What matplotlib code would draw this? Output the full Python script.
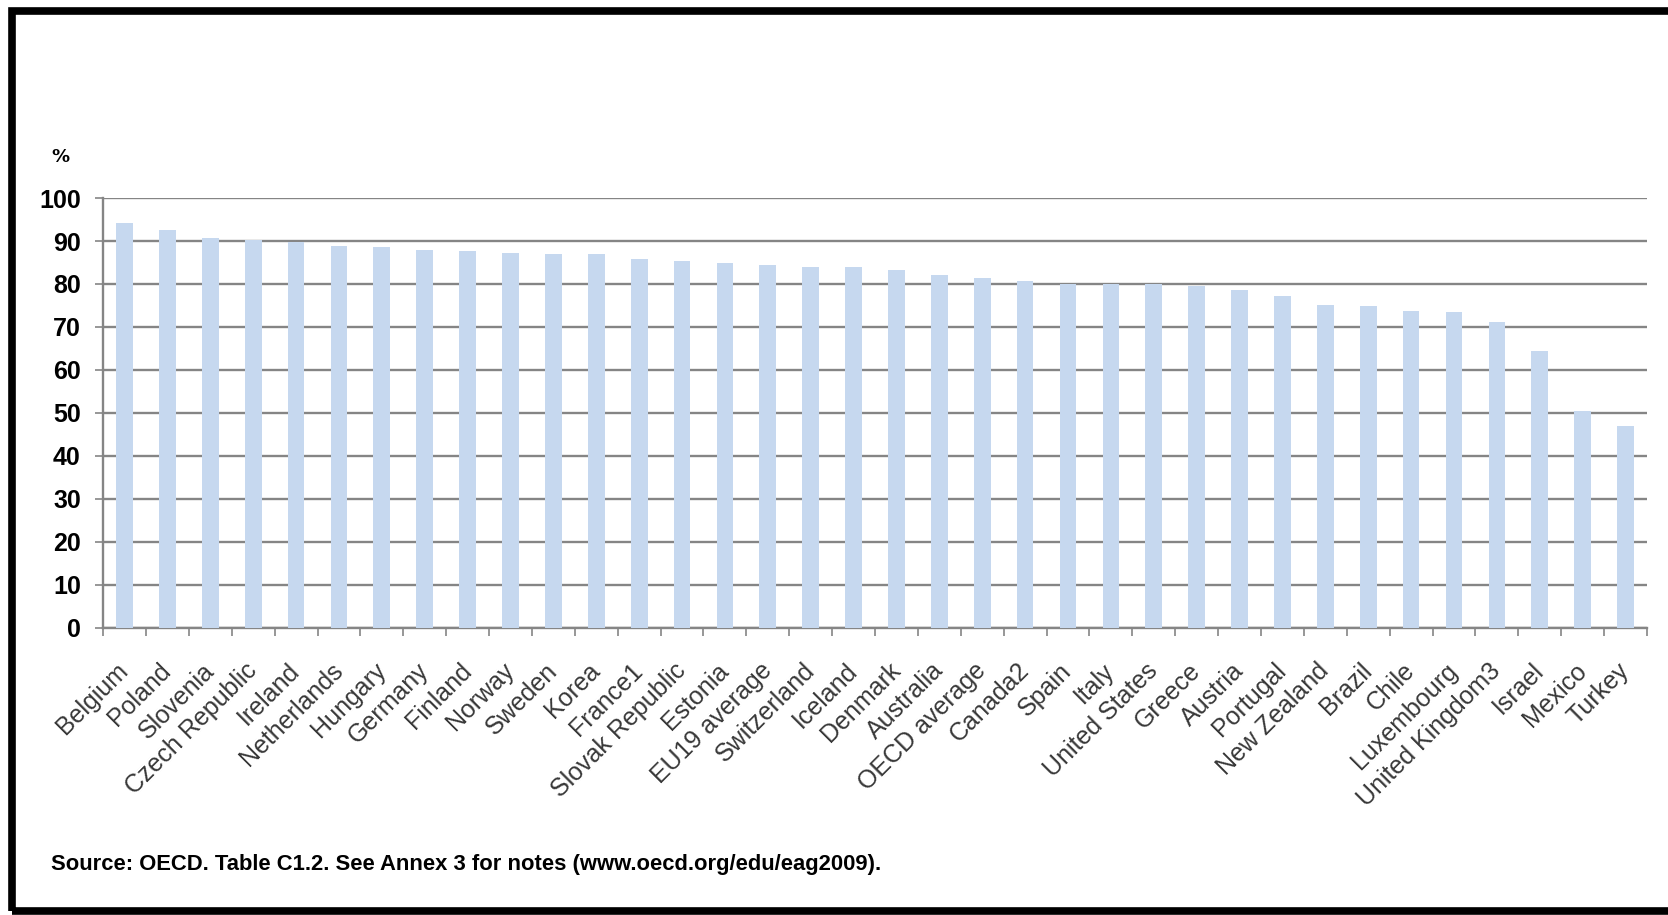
from __future__ import annotations

import matplotlib

matplotlib.use("Agg")
import matplotlib.pyplot as plt
from matplotlib.patches import Rectangle

OUTPUT_FILE = "out.png"

COUNTRIES = [
    "Belgium", "Poland", "Slovenia", "Czech Republic", "Ireland", "Netherlands",
    "Hungary", "Germany", "Finland", "Norway", "Sweden", "Korea", "France1",
    "Slovak Republic", "Estonia", "EU19 average", "Switzerland", "Iceland",
    "Denmark", "Australia", "OECD average", "Canada2", "Spain", "Italy",
    "United States", "Greece", "Austria", "Portugal", "New Zealand", "Brazil",
    "Chile", "Luxembourg", "United Kingdom3", "Israel", "Mexico", "Turkey",
]
SHARES = [
    94.3, 92.6, 90.8, 90.2, 89.7, 88.8,
    88.6, 88.0, 87.7, 87.3, 86.9, 86.9, 85.8,
    85.3, 84.8, 84.4, 84.0, 84.0,
    83.3, 82.2, 81.3, 80.8, 80.0, 80.0,
    79.9, 79.6, 78.6, 77.1, 75.2, 74.9,
    73.8, 73.4, 71.2, 64.4, 50.5, 46.9,
]
Y_TICKS = [0, 10, 20, 30, 40, 50, 60, 70, 80, 90, 100]

SOURCE_NOTE = "Source: OECD. Table C1.2. See Annex 3 for notes (www.oecd.org/edu/eag2009)."

BAR_COLOR = "#c6d8ef"
GRID_COLOR = "#858585"


def plot_chart() -> None:
    figure = plt.figure(figsize=(16.68, 9.15), dpi=100)
    axis = figure.add_axes([0.0618, 0.3137, 0.9256, 0.4699])

    positions = range(len(COUNTRIES))
    axis.bar(positions, SHARES, width=0.39, color=BAR_COLOR, zorder=3)

    axis.set_xlim(-0.5, len(COUNTRIES) - 0.5)
    axis.set_ylim(0, 100)
    axis.set_yticks(Y_TICKS)
    axis.set_yticklabels([str(t) for t in Y_TICKS], fontsize=18,
                         fontweight="bold", family="Liberation Sans")
    axis.yaxis.grid(True, color=GRID_COLOR, linewidth=1.7, zorder=1)
    axis.tick_params(axis="y", length=6, width=1.2, color=GRID_COLOR, pad=10)

    # category ticks sit between bars, labels sit under bar centres
    axis.set_xticks([p - 0.5 for p in positions] + [len(COUNTRIES) - 0.5])
    axis.set_xticklabels([])
    axis.set_xticks(list(positions), minor=True)
    axis.set_xticklabels(COUNTRIES, minor=True, rotation=45, ha="right",
                         va="center", rotation_mode="anchor", fontsize=18,
                         color="#383838", family="Liberation Sans")
    axis.tick_params(axis="x", which="major", length=6, width=1.2,
                     color=GRID_COLOR)
    axis.tick_params(axis="x", which="minor", length=0, pad=28)

    for side in ("top", "right"):
        axis.spines[side].set_visible(False)
    for side in ("left", "bottom"):
        axis.spines[side].set_color(GRID_COLOR)
        axis.spines[side].set_linewidth(1.7)

    figure.text(0.0363, 0.828, "%", fontsize=13, fontweight="bold",
                ha="center", va="center", family="DejaVu Sans")
    figure.text(0.0306, 0.0557, SOURCE_NOTE, fontsize=15.8, fontweight="bold",
                ha="left", va="center", family="Liberation Sans")

    # black frame around the picture, open to the right edge
    figure.patches.append(Rectangle(
        (11.5 / 1668, 4 / 915), 1.2, 1 - 14.5 / 915,
        transform=figure.transFigure, fill=False, edgecolor="black",
        linewidth=5.5, zorder=10,
    ))

    figure.savefig(OUTPUT_FILE, dpi=100)
    plt.close(figure)


def main() -> int:
    plot_chart()
    return 0


if __name__ == "__main__":
    raise SystemExit(main())
